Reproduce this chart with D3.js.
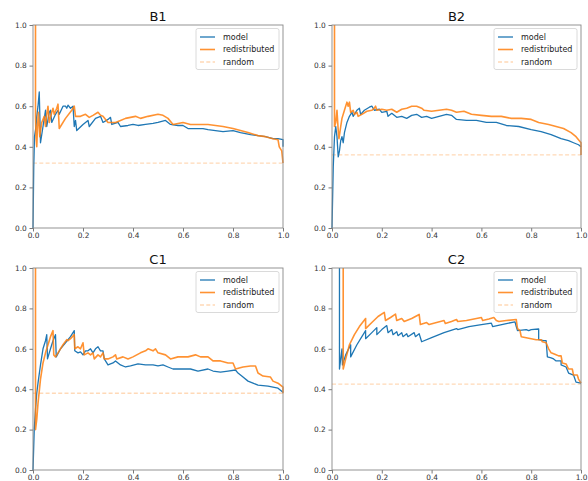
<!DOCTYPE html>
<html>
<head>
<meta charset="utf-8">
<script src="https://cdnjs.cloudflare.com/ajax/libs/d3/7.8.5/d3.min.js"></script>
<style>
  body { margin: 0; background: #fff; }
  svg { font-family: "DejaVu Sans", sans-serif; }
</style>
</head>
<body>
<div id="div_template"></div>
<script>
// [recall, precision] points
const b1Model = [[0,0],[0.003,0.3],[0.006,0.45],[0.012,0.5],[0.015,0.55],[0.02,0.6],[0.025,0.67],[0.03,0.42],[0.04,0.5],[0.05,0.58],[0.055,0.5],[0.065,0.57],[0.07,0.58],[0.075,0.52],[0.09,0.56],[0.1,0.58],[0.105,0.56],[0.12,0.6],[0.13,0.6],[0.135,0.59],[0.14,0.605],[0.15,0.59],[0.16,0.6],[0.165,0.5],[0.17,0.53],[0.175,0.48],[0.2,0.51],[0.22,0.53],[0.225,0.5],[0.25,0.54],[0.27,0.55],[0.28,0.52],[0.3,0.535],[0.31,0.545],[0.315,0.51],[0.34,0.52],[0.35,0.5],[0.38,0.505],[0.4,0.51],[0.42,0.505],[0.45,0.51],[0.48,0.515],[0.5,0.52],[0.53,0.53],[0.55,0.51],[0.58,0.505],[0.6,0.505],[0.62,0.49],[0.65,0.49],[0.68,0.49],[0.7,0.485],[0.73,0.48],[0.76,0.475],[0.8,0.48],[0.83,0.47],[0.87,0.46],[0.9,0.455],[0.93,0.45],[0.96,0.44],[0.98,0.44],[1.0,0.435],[1.0,0.4]];
const b1Redist = [[0.01,1.0],[0.01,0.55],[0.012,0.45],[0.015,0.4],[0.018,0.5],[0.022,0.57],[0.027,0.45],[0.035,0.52],[0.045,0.55],[0.05,0.5],[0.055,0.56],[0.06,0.6],[0.065,0.52],[0.075,0.57],[0.08,0.59],[0.085,0.56],[0.095,0.59],[0.1,0.61],[0.105,0.49],[0.13,0.54],[0.155,0.58],[0.165,0.6],[0.17,0.55],[0.19,0.55],[0.21,0.56],[0.225,0.545],[0.24,0.555],[0.26,0.57],[0.27,0.555],[0.28,0.55],[0.3,0.52],[0.33,0.52],[0.35,0.53],[0.37,0.54],[0.39,0.545],[0.41,0.55],[0.43,0.54],[0.46,0.55],[0.5,0.56],[0.52,0.555],[0.54,0.54],[0.56,0.51],[0.6,0.52],[0.63,0.51],[0.66,0.51],[0.7,0.51],[0.73,0.505],[0.76,0.5],[0.8,0.49],[0.83,0.48],[0.86,0.47],[0.9,0.455],[0.93,0.45],[0.96,0.44],[0.98,0.435],[0.985,0.4],[0.995,0.38],[1.0,0.32]];

const b2Model = [[0,0],[0.005,0.3],[0.01,0.45],[0.015,0.5],[0.02,0.45],[0.025,0.35],[0.03,0.38],[0.035,0.43],[0.04,0.45],[0.045,0.42],[0.05,0.47],[0.06,0.52],[0.07,0.55],[0.08,0.57],[0.085,0.55],[0.1,0.58],[0.11,0.59],[0.115,0.56],[0.13,0.58],[0.15,0.595],[0.16,0.6],[0.17,0.58],[0.19,0.585],[0.2,0.57],[0.22,0.575],[0.225,0.55],[0.24,0.565],[0.26,0.545],[0.28,0.55],[0.3,0.54],[0.32,0.555],[0.34,0.56],[0.36,0.545],[0.38,0.55],[0.4,0.54],[0.43,0.55],[0.46,0.56],[0.48,0.555],[0.5,0.535],[0.54,0.53],[0.58,0.53],[0.62,0.52],[0.66,0.52],[0.7,0.505],[0.75,0.5],[0.8,0.485],[0.84,0.475],[0.88,0.46],[0.92,0.44],[0.95,0.43],[0.97,0.42],[0.99,0.41],[1.0,0.4]];
const b2Redist = [[0.01,1.0],[0.01,0.5],[0.015,0.52],[0.02,0.58],[0.025,0.48],[0.028,0.44],[0.035,0.5],[0.04,0.54],[0.05,0.58],[0.06,0.62],[0.065,0.6],[0.07,0.62],[0.075,0.57],[0.085,0.58],[0.09,0.56],[0.1,0.57],[0.105,0.55],[0.12,0.56],[0.14,0.575],[0.16,0.58],[0.17,0.59],[0.175,0.6],[0.18,0.58],[0.2,0.585],[0.22,0.58],[0.24,0.585],[0.26,0.57],[0.28,0.585],[0.3,0.59],[0.32,0.6],[0.34,0.6],[0.36,0.59],[0.37,0.58],[0.4,0.575],[0.43,0.58],[0.46,0.585],[0.48,0.58],[0.5,0.57],[0.53,0.575],[0.56,0.56],[0.6,0.555],[0.64,0.55],[0.68,0.55],[0.72,0.54],[0.76,0.54],[0.8,0.535],[0.83,0.52],[0.87,0.51],[0.9,0.5],[0.93,0.49],[0.96,0.47],[0.98,0.45],[1.0,0.42],[1.0,0.36]];

const c1Model = [[0,0],[0.005,0.2],[0.01,0.3],[0.015,0.38],[0.02,0.43],[0.03,0.52],[0.04,0.6],[0.05,0.64],[0.055,0.67],[0.058,0.55],[0.07,0.6],[0.08,0.64],[0.09,0.67],[0.093,0.56],[0.11,0.6],[0.13,0.63],[0.15,0.66],[0.165,0.69],[0.167,0.59],[0.18,0.58],[0.19,0.585],[0.2,0.57],[0.21,0.59],[0.22,0.59],[0.23,0.6],[0.24,0.58],[0.25,0.6],[0.26,0.61],[0.27,0.59],[0.28,0.59],[0.285,0.55],[0.3,0.52],[0.32,0.53],[0.33,0.54],[0.35,0.52],[0.37,0.51],[0.39,0.515],[0.42,0.525],[0.45,0.52],[0.48,0.52],[0.5,0.515],[0.52,0.52],[0.54,0.51],[0.56,0.5],[0.6,0.5],[0.63,0.5],[0.66,0.49],[0.7,0.5],[0.72,0.49],[0.75,0.485],[0.78,0.49],[0.81,0.495],[0.82,0.48],[0.84,0.46],[0.86,0.44],[0.88,0.43],[0.9,0.42],[0.94,0.415],[0.96,0.41],[0.98,0.405],[0.99,0.395],[1.0,0.385]];
const c1Redist = [[0.01,1.0],[0.01,0.2],[0.015,0.25],[0.02,0.33],[0.03,0.45],[0.04,0.53],[0.05,0.58],[0.06,0.62],[0.07,0.66],[0.08,0.69],[0.083,0.57],[0.09,0.56],[0.1,0.58],[0.12,0.62],[0.135,0.645],[0.14,0.64],[0.15,0.65],[0.165,0.67],[0.167,0.6],[0.18,0.61],[0.19,0.6],[0.2,0.63],[0.205,0.57],[0.22,0.58],[0.23,0.57],[0.24,0.58],[0.245,0.55],[0.26,0.57],[0.27,0.56],[0.28,0.58],[0.285,0.55],[0.3,0.55],[0.32,0.56],[0.33,0.57],[0.335,0.55],[0.36,0.56],[0.38,0.55],[0.4,0.56],[0.43,0.58],[0.45,0.59],[0.46,0.6],[0.48,0.59],[0.49,0.6],[0.5,0.58],[0.53,0.57],[0.55,0.55],[0.58,0.56],[0.62,0.56],[0.65,0.57],[0.67,0.56],[0.7,0.56],[0.72,0.54],[0.75,0.54],[0.78,0.53],[0.8,0.53],[0.81,0.5],[0.84,0.51],[0.87,0.515],[0.89,0.515],[0.9,0.48],[0.92,0.465],[0.95,0.46],[0.96,0.44],[0.98,0.43],[0.99,0.42],[1.0,0.41],[1.0,0.38]];

const c2Model = [[0.03,1.0],[0.03,0.5],[0.04,0.6],[0.042,0.52],[0.055,0.57],[0.075,0.62],[0.075,0.56],[0.1,0.62],[0.12,0.66],[0.135,0.69],[0.135,0.65],[0.16,0.68],[0.18,0.705],[0.18,0.67],[0.2,0.695],[0.22,0.715],[0.225,0.68],[0.24,0.695],[0.245,0.67],[0.26,0.685],[0.265,0.665],[0.28,0.68],[0.285,0.66],[0.3,0.675],[0.305,0.66],[0.33,0.68],[0.335,0.66],[0.35,0.675],[0.36,0.635],[0.4,0.655],[0.45,0.68],[0.5,0.7],[0.505,0.695],[0.55,0.71],[0.6,0.72],[0.64,0.727],[0.645,0.71],[0.7,0.725],[0.735,0.733],[0.74,0.71],[0.745,0.69],[0.78,0.695],[0.79,0.69],[0.8,0.695],[0.83,0.698],[0.83,0.645],[0.85,0.64],[0.86,0.64],[0.865,0.56],[0.88,0.555],[0.89,0.55],[0.9,0.54],[0.92,0.54],[0.92,0.52],[0.94,0.51],[0.95,0.48],[0.97,0.47],[0.98,0.435],[1.0,0.43]];
const c2Redist = [[0.045,1.0],[0.045,0.5],[0.055,0.55],[0.07,0.62],[0.09,0.67],[0.11,0.71],[0.135,0.75],[0.135,0.7],[0.16,0.73],[0.185,0.76],[0.21,0.78],[0.215,0.74],[0.235,0.755],[0.255,0.772],[0.26,0.74],[0.28,0.75],[0.29,0.735],[0.32,0.75],[0.35,0.77],[0.355,0.72],[0.38,0.73],[0.39,0.72],[0.42,0.73],[0.45,0.74],[0.455,0.725],[0.48,0.735],[0.5,0.745],[0.505,0.735],[0.54,0.74],[0.58,0.75],[0.6,0.755],[0.605,0.74],[0.63,0.748],[0.65,0.755],[0.66,0.74],[0.67,0.735],[0.7,0.74],[0.74,0.745],[0.745,0.7],[0.755,0.69],[0.76,0.66],[0.78,0.655],[0.8,0.65],[0.82,0.645],[0.84,0.645],[0.845,0.635],[0.86,0.63],[0.87,0.6],[0.88,0.58],[0.9,0.57],[0.91,0.565],[0.92,0.565],[0.925,0.53],[0.94,0.525],[0.95,0.5],[0.965,0.5],[0.97,0.47],[0.985,0.47],[0.99,0.45],[1.0,0.43]];

const panelNames = ["B1", "B2", "C1", "C2"];
const modelSeries = [b1Model, b2Model, c1Model, c2Model];
const redistSeries = [b1Redist, b2Redist, c1Redist, c2Redist];
const randomLevels = [0.32, 0.36, 0.38, 0.425];
const tickValues = [0, 0.2, 0.4, 0.6, 0.8, 1.0];
const legendLabels = ["model", "redistributed", "random"];

const blue = "#1f77b4";
const orange = "#ff7f0e";
const randomColor = "#ffd9b7";

const colLeft = [33, 332];
const rowTop = [25, 268];
const plotW = [250, 249];
const plotH = [203, 202];

const svg = d3.select("#div_template")
  .append("svg")
  .attr("width", 588)
  .attr("height", 481);

panelNames.forEach(function (name, i) {
  const col = i % 2, row = Math.floor(i / 2);
  const width = plotW[col], height = plotH[row];

  const g = svg.append("g")
    .attr("transform", "translate(" + colLeft[col] + "," + rowTop[row] + ")");

  const x = d3.scaleLinear().domain([0, 1]).range([0, width]);
  const y = d3.scaleLinear().domain([0, 1]).range([height, 0]);

  g.append("clipPath")
    .attr("id", "clip" + i)
    .append("rect")
    .attr("x", -1).attr("y", -1)
    .attr("width", width + 2).attr("height", height + 2);

  // axes
  const xAxis = g.append("g")
    .attr("transform", "translate(0," + height + ")")
    .call(d3.axisBottom(x).tickValues(tickValues).tickFormat(d3.format(".1f")).tickSize(3.5).tickPadding(1.5));
  const yAxis = g.append("g")
    .call(d3.axisLeft(y).tickValues(tickValues).tickFormat(d3.format(".1f")).tickSize(3.5).tickPadding(2.8));
  [xAxis, yAxis].forEach(function (a) {
    a.select(".domain").remove();
    a.selectAll("line").attr("stroke", "#555").attr("stroke-width", 0.8);
    a.selectAll("text").attr("fill", "#333").style("font-size", "7.4px").style("font-family", "DejaVu Sans");
  });

  const line = d3.line()
    .x(function (d) { return x(d[0]); })
    .y(function (d) { return y(d[1]); });

  const plot = g.append("g").attr("clip-path", "url(#clip" + i + ")");

  plot.append("path")
    .datum([[0, randomLevels[i]], [1, randomLevels[i]]])
    .attr("d", line)
    .attr("fill", "none")
    .attr("stroke", randomColor)
    .attr("stroke-width", 1.3)
    .attr("stroke-dasharray", "4,2.3");

  plot.append("path")
    .datum(modelSeries[i])
    .attr("d", line)
    .attr("fill", "none")
    .attr("stroke", blue)
    .attr("stroke-width", 1.3)
    .attr("stroke-linejoin", "round");

  plot.append("path")
    .datum(redistSeries[i])
    .attr("d", line)
    .attr("fill", "none")
    .attr("stroke", orange)
    .attr("stroke-opacity", 0.85)
    .attr("stroke-width", 1.6)
    .attr("stroke-linejoin", "round");

  // frame
  g.append("rect")
    .attr("width", width).attr("height", height)
    .attr("fill", "none")
    .attr("stroke", "#888")
    .attr("stroke-width", 0.9);

  g.append("text")
    .attr("x", width / 2)
    .attr("y", -4)
    .attr("text-anchor", "middle")
    .style("font-size", "13px")
    .attr("fill", "#111")
    .text(name);

  // legend
  const lw = 83, lh = 41;
  const legend = g.append("g")
    .attr("transform", "translate(" + (width - 4 - lw) + ",3.5)");
  legend.append("rect")
    .attr("width", lw).attr("height", lh)
    .attr("rx", 2)
    .attr("fill", "#fff").attr("fill-opacity", 0.8)
    .attr("stroke", "#d0d0d0").attr("stroke-width", 0.8);

  const legendStyles = [
    { stroke: blue, width: 1.3, dash: null, op: 1 },
    { stroke: orange, width: 1.6, dash: null, op: 0.85 },
    { stroke: randomColor, width: 1.3, dash: "4,2.3", op: 1 }
  ];
  legendLabels.forEach(function (label, k) {
    const cy = 8.5 + k * 12.5;
    legend.append("line")
      .attr("x1", 4).attr("x2", 19)
      .attr("y1", cy).attr("y2", cy)
      .attr("stroke", legendStyles[k].stroke)
      .attr("stroke-opacity", legendStyles[k].op)
      .attr("stroke-width", legendStyles[k].width)
      .attr("stroke-dasharray", legendStyles[k].dash);
    legend.append("text")
      .attr("x", 27)
      .attr("y", cy + 2.9)
      .style("font-size", "8px")
      .attr("fill", "#222")
      .text(label);
  });
});
</script>
</body>
</html>
